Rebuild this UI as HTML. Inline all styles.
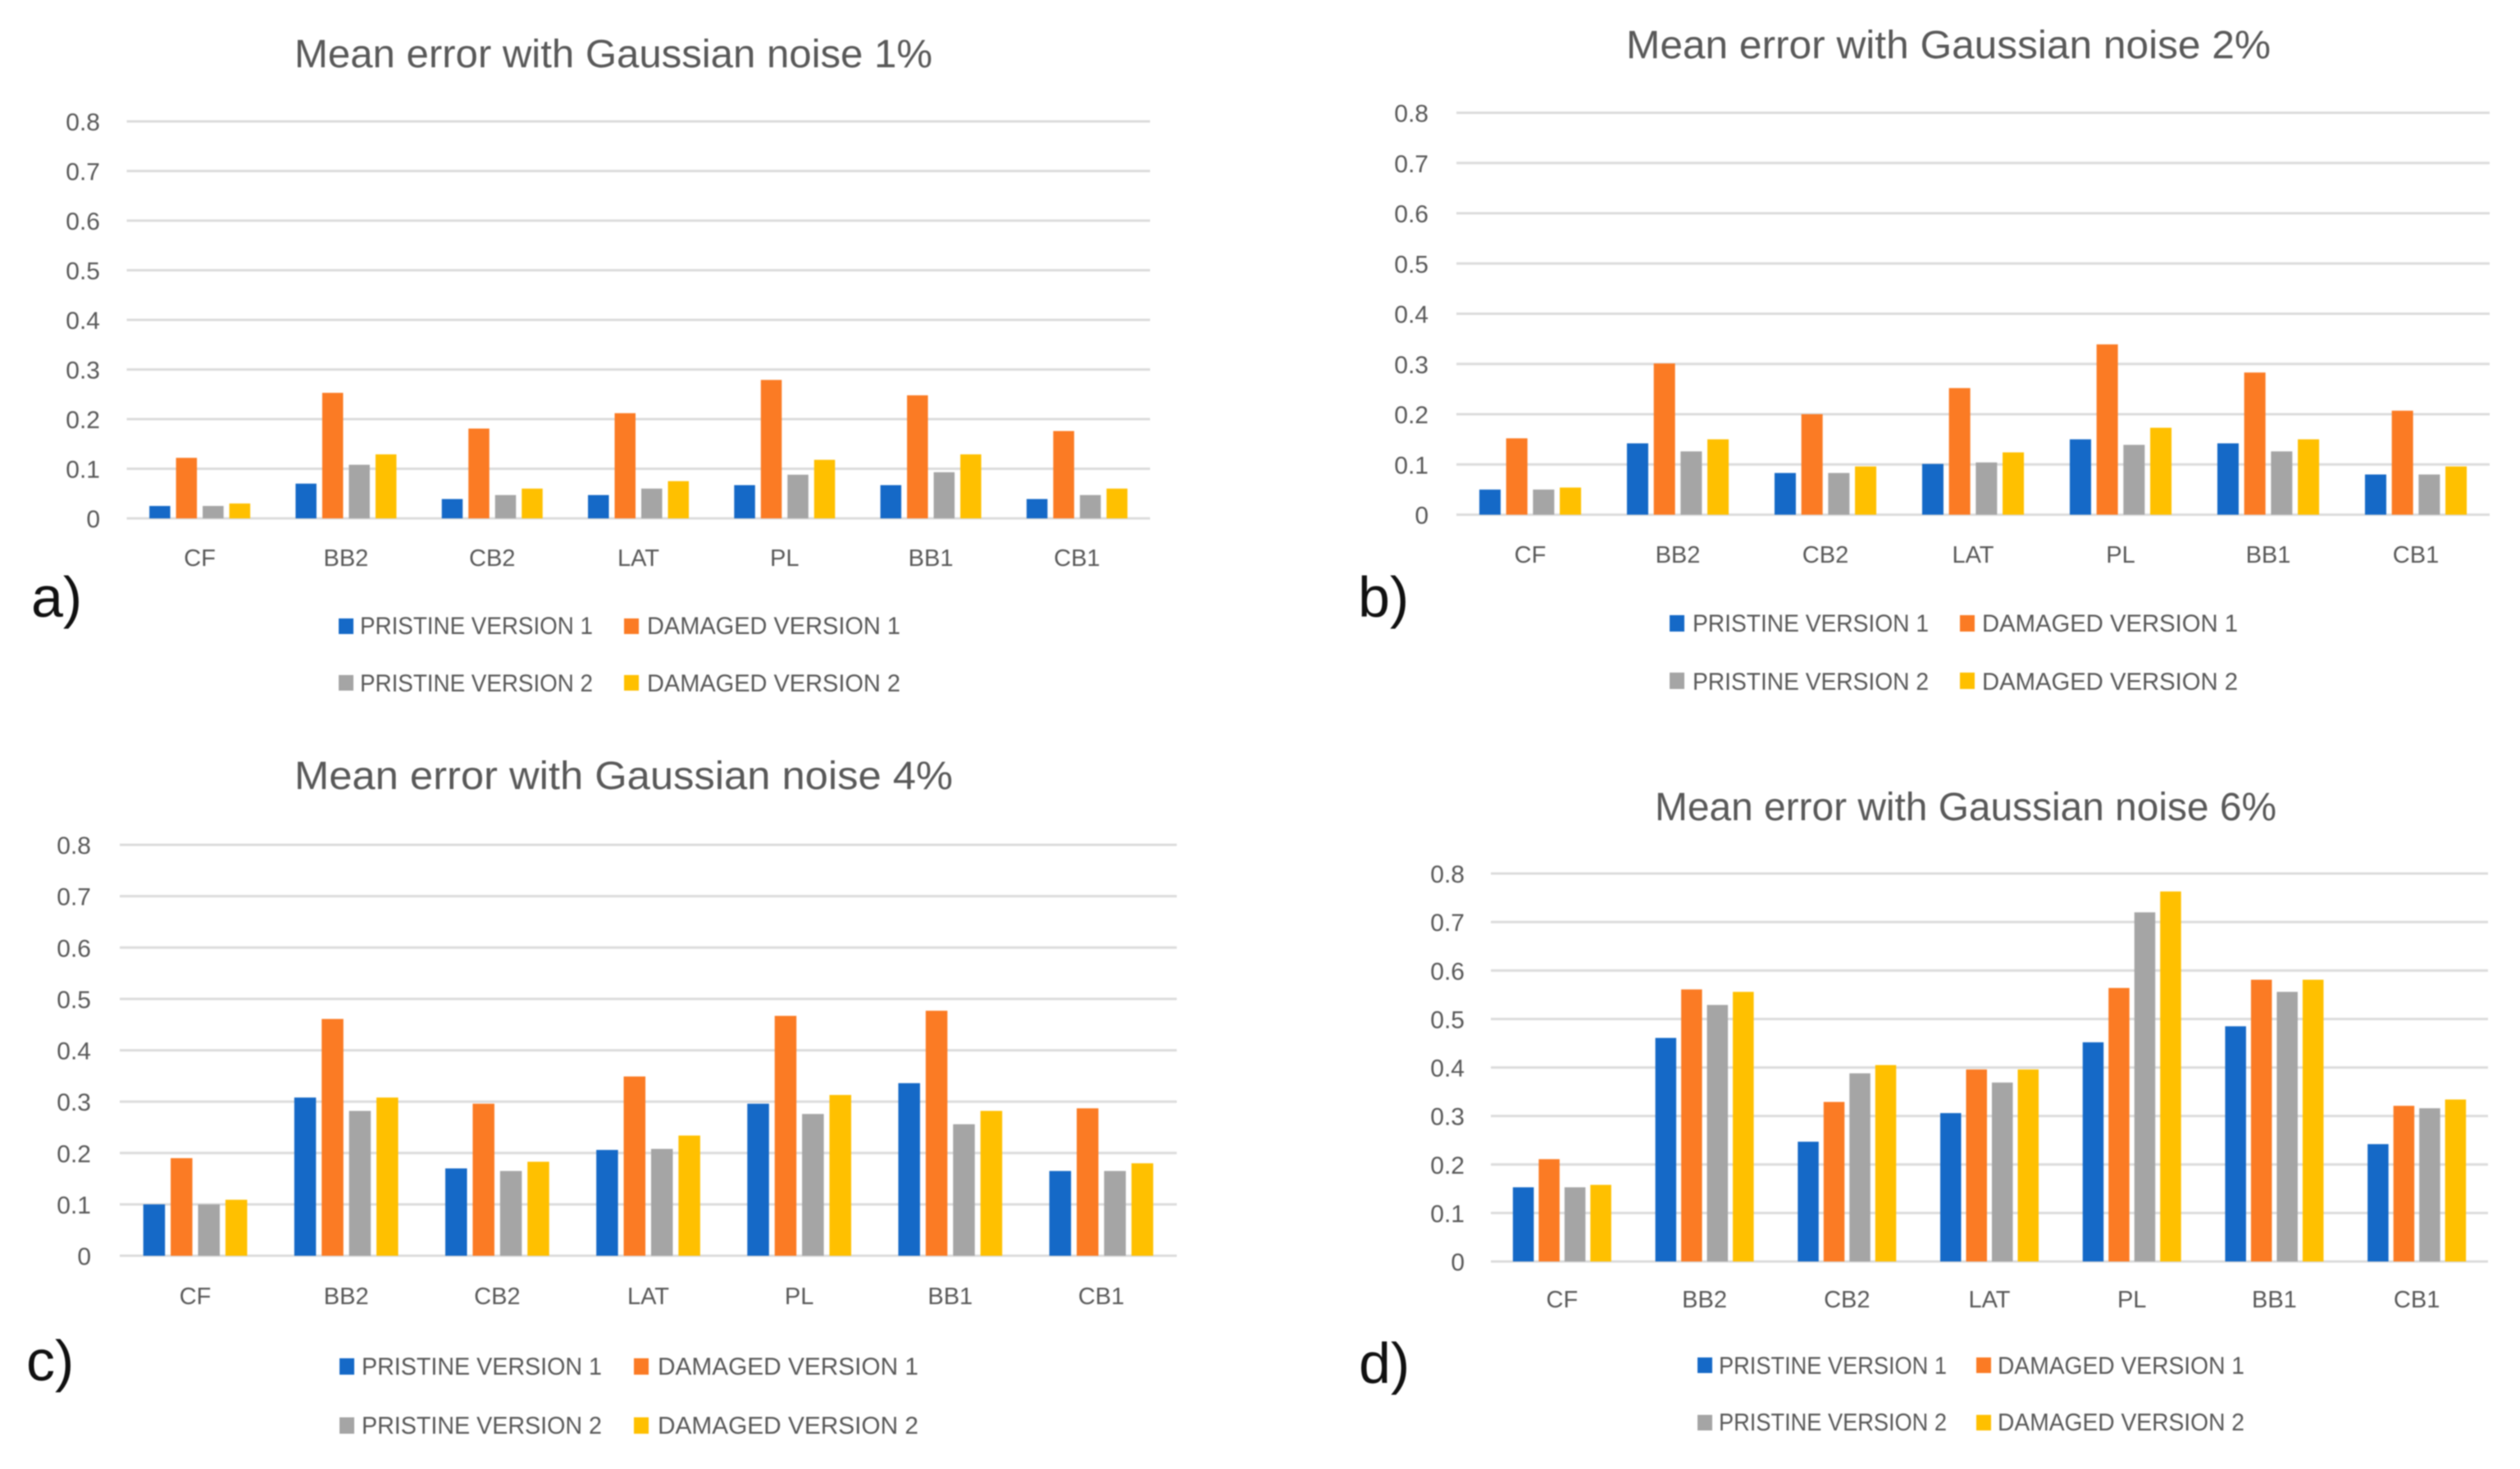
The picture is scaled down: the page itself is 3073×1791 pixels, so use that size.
<!DOCTYPE html>
<html lang="en">
<head>
<meta charset="utf-8">
<title>Mean error with Gaussian noise</title>
<style>
html,body{margin:0;padding:0;background:#fff;width:3073px;height:1791px;overflow:hidden}
svg{display:block;filter:blur(0.8px)}
text{font-family:"Liberation Sans",sans-serif;fill:#595959}
</style>
</head>
<body>
<svg id="figure" xmlns="http://www.w3.org/2000/svg" width="3073" height="1791" viewBox="0 0 3073 1791"></svg>
<script>
const categories = ["CF","BB2","CB2","LAT","PL","BB1","CB1"];
const tickValues = [0,0.1,0.2,0.3,0.4,0.5,0.6,0.7,0.8];
const tickLabels = ["0","0.1","0.2","0.3","0.4","0.5","0.6","0.7","0.8"];
const seriesNames = ["PRISTINE VERSION 1","DAMAGED VERSION 1","PRISTINE VERSION 2","DAMAGED VERSION 2"];

const noise1Pristine1 = [0.025,0.070,0.039,0.047,0.067,0.067,0.039];
const noise1Damaged1  = [0.122,0.253,0.181,0.212,0.279,0.248,0.176];
const noise1Pristine2 = [0.025,0.108,0.047,0.060,0.088,0.093,0.047];
const noise1Damaged2  = [0.030,0.129,0.060,0.075,0.118,0.129,0.060];

const noise2Pristine1 = [0.050,0.142,0.083,0.101,0.150,0.142,0.080];
const noise2Damaged1  = [0.152,0.301,0.200,0.252,0.339,0.283,0.207];
const noise2Pristine2 = [0.050,0.126,0.083,0.104,0.139,0.126,0.080];
const noise2Damaged2  = [0.054,0.150,0.096,0.124,0.173,0.150,0.096];

const noise4Pristine1 = [0.100,0.308,0.170,0.206,0.296,0.336,0.165];
const noise4Damaged1  = [0.190,0.461,0.296,0.349,0.467,0.477,0.287];
const noise4Pristine2 = [0.100,0.282,0.165,0.208,0.276,0.256,0.165];
const noise4Damaged2  = [0.109,0.308,0.183,0.234,0.313,0.282,0.180];

const noise6Pristine1 = [0.153,0.461,0.247,0.306,0.452,0.485,0.242];
const noise6Damaged1  = [0.211,0.561,0.329,0.396,0.564,0.581,0.321];
const noise6Pristine2 = [0.153,0.529,0.388,0.369,0.720,0.556,0.316];
const noise6Damaged2  = [0.158,0.556,0.405,0.396,0.763,0.581,0.334];

const seriesColors = ["#1569C7","#FB7B24","#A5A5A5","#FFC000"];
const axisMax = 0.8;

const panels = [
  {id:"a",title:"Mean error with Gaussian noise 1%",series:[noise1Pristine1,noise1Damaged1,noise1Pristine2,noise1Damaged2],
   x0:154.5,x1:1402.5,y0:632,y8:148,barW:25.5,pitch:32.5,
   titleX:359,titleLen:778,titleY:82,tickRight:122,catY:690,
   legP:[413,439,284],legD:[761,789,309],legY:[773,843],markY:[754,823],markW:18,markH:19,
   label:"a)",labelX:38,labelY:752},
  {id:"b",title:"Mean error with Gaussian noise 2%",series:[noise2Pristine1,noise2Damaged1,noise2Pristine2,noise2Damaged2],
   x0:1776,x1:3036,y0:627.5,y8:137.5,barW:26,pitch:32.7,
   titleX:1983,titleLen:786,titleY:71,tickRight:1742,catY:686,
   legP:[2036,2064,288],legD:[2390,2417,312],legY:[770,841],markY:[750,820],markW:18,markH:20,
   label:"b)",labelX:1656,labelY:752},
  {id:"c",title:"Mean error with Gaussian noise 4%",series:[noise4Pristine1,noise4Damaged1,noise4Pristine2,noise4Damaged2],
   x0:146,x1:1435,y0:1531,y8:1030,barW:26.5,pitch:33.4,
   titleX:359,titleLen:803,titleY:962,tickRight:111,catY:1590,
   legP:[414,441,293],legD:[773,802,318],legY:[1676,1748],markY:[1656,1728],markW:18,markH:20,
   label:"c)",labelX:32,labelY:1683},
  {id:"d",title:"Mean error with Gaussian noise 6%",series:[noise6Pristine1,noise6Damaged1,noise6Pristine2,noise6Damaged2],
   x0:1818,x1:3034,y0:1538,y8:1065,barW:25.5,pitch:31.5,
   titleX:2018,titleLen:758,titleY:1000,tickRight:1786,catY:1594,
   legP:[2070,2096,278],legD:[2410,2436,301],legY:[1675,1744],markY:[1655,1725],markW:18,markH:19,
   label:"d)",labelX:1657,labelY:1686}
];

const NS = "http://www.w3.org/2000/svg";
const root = document.getElementById("figure");

function svgEl(tag, parent){
  const el = document.createElementNS(NS, tag);
  parent.appendChild(el);
  return el;
}
function setText(el, str, x, y, size, anchor, len){
  el.textContent = str;
  el.setAttribute("x", x);
  el.setAttribute("y", y);
  el.setAttribute("font-size", size);
  el.setAttribute("text-anchor", anchor);
  if (len) {
    el.setAttribute("textLength", len);
    el.setAttribute("lengthAdjust", "spacingAndGlyphs");
  }
}

panels.forEach(function(p){
  const yScale = function(v){ return p.y0 - (v / axisMax) * (p.y0 - p.y8); };
  const catW = (p.x1 - p.x0) / categories.length;
  const catCenter = function(i){ return p.x0 + catW * (i + 0.5); };
  const barX = function(c, s){
    const groupW = p.barW * seriesNames.length + (p.pitch - p.barW) * (seriesNames.length - 1);
    return catCenter(c) - groupW / 2 + s * p.pitch;
  };

  const g = svgEl("g", root);
  
  

  const title = svgEl("text", g);
  
  
  setText(title, p.title, p.titleX, p.titleY, 48, "start", p.titleLen);

  tickValues.forEach(function(v, i){
    const grid = svgEl("line", g);
    
    
    grid.setAttribute("x1", p.x0);
    grid.setAttribute("x2", p.x1);
    grid.setAttribute("y1", yScale(v));
    grid.setAttribute("y2", yScale(v));
    grid.setAttribute("stroke", "#DCDCDC");
    grid.setAttribute("stroke-width", "3");

    const tick = svgEl("text", g);
    
    
    setText(tick, tickLabels[i], p.tickRight, yScale(v) + 11, 30, "end", 0);
  });

  categories.forEach(function(cat, c){
    p.series.forEach(function(values, s){
      const bar = svgEl("rect", g);
      
      
      bar.setAttribute("x", barX(c, s));
      bar.setAttribute("y", yScale(values[c]));
      bar.setAttribute("width", p.barW);
      bar.setAttribute("height", yScale(0) - yScale(values[c]));
      bar.setAttribute("fill", seriesColors[s]);
    });
    const lab = svgEl("text", g);
    
    
    setText(lab, cat, catCenter(c), p.catY, 29, "middle", 0);
  });

  seriesNames.forEach(function(name, s){
    const col = s % 2 === 0 ? p.legP : p.legD;
    const row = s < 2 ? 0 : 1;
    const mark = svgEl("rect", g);
    
    
    mark.setAttribute("x", col[0]);
    mark.setAttribute("y", p.markY[row]);
    mark.setAttribute("width", p.markW);
    mark.setAttribute("height", p.markH);
    mark.setAttribute("fill", seriesColors[s]);
    const txt = svgEl("text", g);
    
    
    setText(txt, name, col[1], p.legY[row], 30, "start", col[2]);
  });

  const tag = svgEl("text", g);
  
  
  setText(tag, p.label, p.labelX, p.labelY, 70, "start", 0);
  tag.setAttribute("style", "fill:#111");
});
</script>
</body>
</html>
